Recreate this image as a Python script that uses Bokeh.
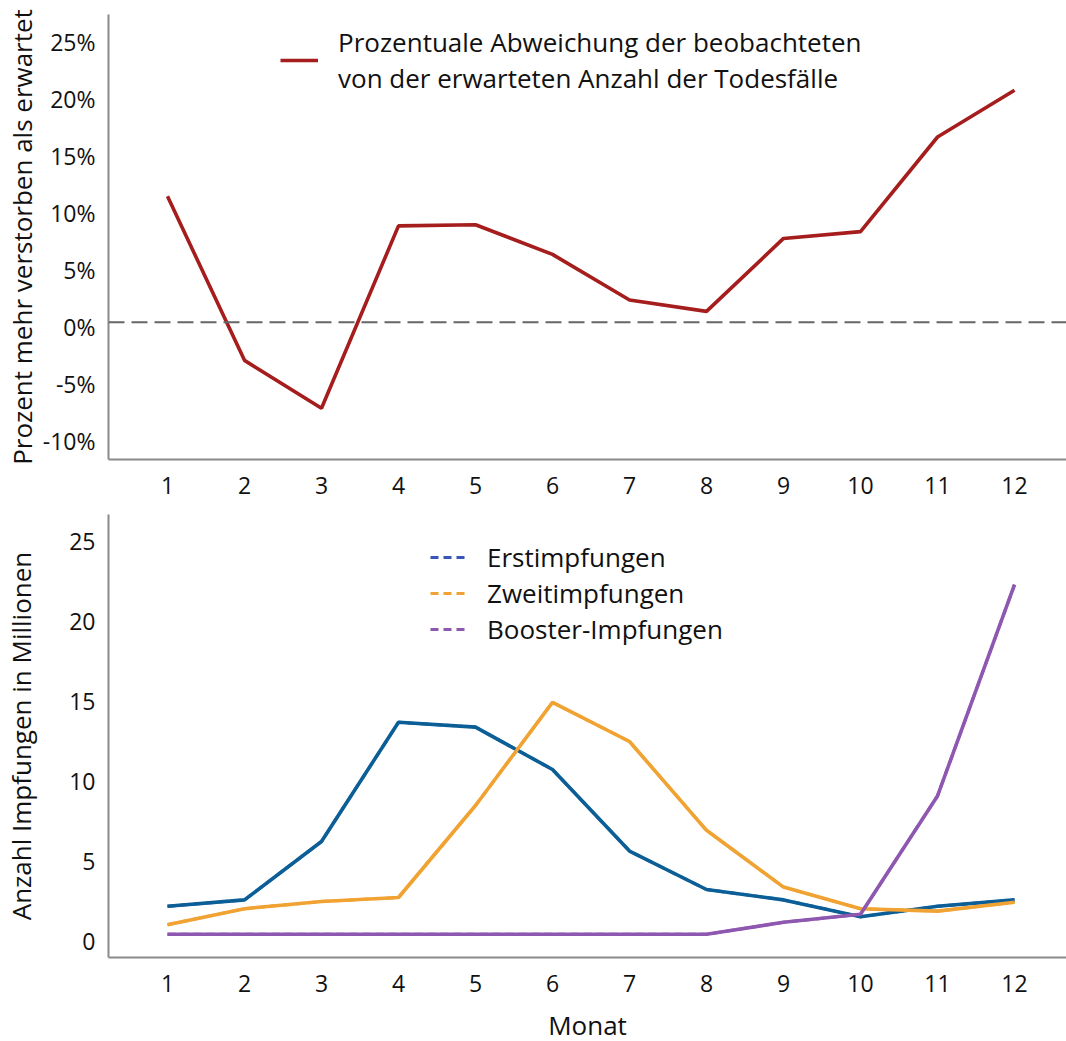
from bokeh.plotting import figure
from bokeh.layouts import column
from bokeh.models import Range1d, FixedTicker, Span, Legend, LegendItem, PrintfTickFormatter
from bokeh.embed import file_html
from bokeh.resources import INLINE

# ---------------- data ----------------
months = [1, 2, 3, 4, 5, 6, 7, 8, 9, 10, 11, 12]
month_labels = ["1", "2", "3", "4", "5", "6", "7", "8", "9", "10", "11", "12"]

excess_pct = [11.5, -2.9, -7.1, 8.9, 9.0, 6.4, 2.4, 1.4, 7.8, 8.4, 16.7, 20.8]
reference_pct = 0.45
pct_ticks = [-10, -5, 0, 5, 10, 15, 20, 25]

first_doses = [2.2, 2.6, 6.25, 13.7, 13.4, 10.75, 5.65, 3.25, 2.6, 1.55, 2.2, 2.6]
second_doses = [1.05, 2.05, 2.5, 2.75, 8.5, 14.95, 12.5, 6.95, 3.4, 2.05, 1.9, 2.45]
booster_doses = [0.45, 0.45, 0.45, 0.45, 0.45, 0.45, 0.45, 0.45, 1.2, 1.7, 9.1, 22.3]
dose_ticks = [0, 5, 10, 15, 20, 25]

legend_top = "Prozentuale Abweichung der beobachteten\nvon der erwarteten Anzahl der Todesfälle"
legend_names = ["Erstimpfungen", "Zweitimpfungen", "Booster-Impfungen"]

# ---------------- style ----------------
FONT = "Open Sans"
TICK_SIZE = "23px"
LABEL_SIZE = "26px"
LEGEND_SIZE = "26px"
AXIS_COLOR = "#8a8a8a"
RED = "#a51d1d"
BLUE_LINE = "#0b5e96"
BLUE_LEG = "#3557b5"
ORANGE = "#f0a232"
PURPLE = "#8f58b0"
LW = 3.6


def style_axes(p):
    for ax in (p.xaxis[0], p.yaxis[0]):
        ax.axis_line_color = AXIS_COLOR
        ax.axis_line_width = 2
        ax.major_tick_line_color = None
        ax.minor_tick_line_color = None
        ax.major_label_text_font = FONT
        ax.major_label_text_font_size = TICK_SIZE
        ax.major_label_text_color = "#111111"
        ax.axis_label_text_font = FONT
        ax.axis_label_text_font_size = LABEL_SIZE
        ax.axis_label_text_font_style = "normal"
        ax.axis_label_text_color = "#111111"
    p.xaxis[0].ticker = FixedTicker(ticks=months)
    p.xaxis[0].major_label_overrides = {m: s for m, s in zip(months, month_labels)}
    p.xaxis[0].major_label_standoff = 11
    p.yaxis[0].major_label_standoff = 7
    p.xgrid.visible = False
    p.ygrid.visible = False
    p.outline_line_color = None


# ---------------- top chart ----------------
p1 = figure(frame_width=958, frame_height=445, output_backend="svg", toolbar_location=None,
            x_range=Range1d(0.234, 12.675), y_range=Range1d(-11.6, 27.45),
            min_border_left=100, min_border_right=0, min_border_top=14, min_border_bottom=48)
style_axes(p1)
p1.yaxis[0].ticker = FixedTicker(ticks=pct_ticks)
p1.yaxis[0].formatter = PrintfTickFormatter(format="%d%%")
p1.yaxis[0].axis_label = "Prozent mehr verstorben als erwartet"
p1.yaxis[0].axis_label_standoff = 0

p1.add_layout(Span(location=reference_pct, dimension="width", line_color="#666666",
                   line_width=2, line_dash="16 7"))
r_red = p1.line(months, excess_pct, line_color=RED, line_width=LW)

leg1 = Legend(items=[LegendItem(label=legend_top, renderers=[r_red])],
              location=(172, 363), border_line_color=None, background_fill_alpha=0,
              padding=0, margin=0, glyph_width=38, label_standoff=20,
              label_text_font=FONT, label_text_font_size=LEGEND_SIZE, label_text_color="#111111",
              label_text_line_height=1.0)
p1.add_layout(leg1)

# ---------------- bottom chart ----------------
p2 = figure(frame_width=958, frame_height=443, output_backend="svg", toolbar_location=None,
            x_range=Range1d(0.234, 12.675), y_range=Range1d(-1.0, 26.69),
            min_border_left=100, min_border_right=0, min_border_top=7, min_border_bottom=83)
style_axes(p2)
p2.yaxis[0].ticker = FixedTicker(ticks=dose_ticks)
p2.yaxis[0].axis_label = "Anzahl Impfungen in Millionen"
p2.yaxis[0].axis_label_standoff = 27
p2.xaxis[0].axis_label = "Monat"
p2.xaxis[0].axis_label_standoff = 12

series = [(first_doses, BLUE_LINE, BLUE_LEG), (second_doses, ORANGE, ORANGE), (booster_doses, PURPLE, PURPLE)]
legend_renderers = []
for vals, col_line, col_leg in series:
    # dashed copy (hidden beneath the solid line) used for the legend sample
    rd = p2.line(months, vals, line_color=col_leg, line_width=3, line_dash="8 5")
    legend_renderers.append(rd)
for vals, col_line, col_leg in series:
    p2.line(months, vals, line_color=col_line, line_width=LW)

leg2 = Legend(items=[LegendItem(label=n, renderers=[r]) for n, r in zip(legend_names, legend_renderers)],
              location=(322, 310), border_line_color=None, background_fill_alpha=0,
              padding=0, margin=0, spacing=0, label_height=36, glyph_height=36, glyph_width=35,
              label_standoff=22, label_text_font=FONT, label_text_font_size=LEGEND_SIZE,
              label_text_color="#111111")
p2.add_layout(leg2)

layout = column(p1, p2, spacing=0)
open("out.html", "w").write(file_html(layout, INLINE))
